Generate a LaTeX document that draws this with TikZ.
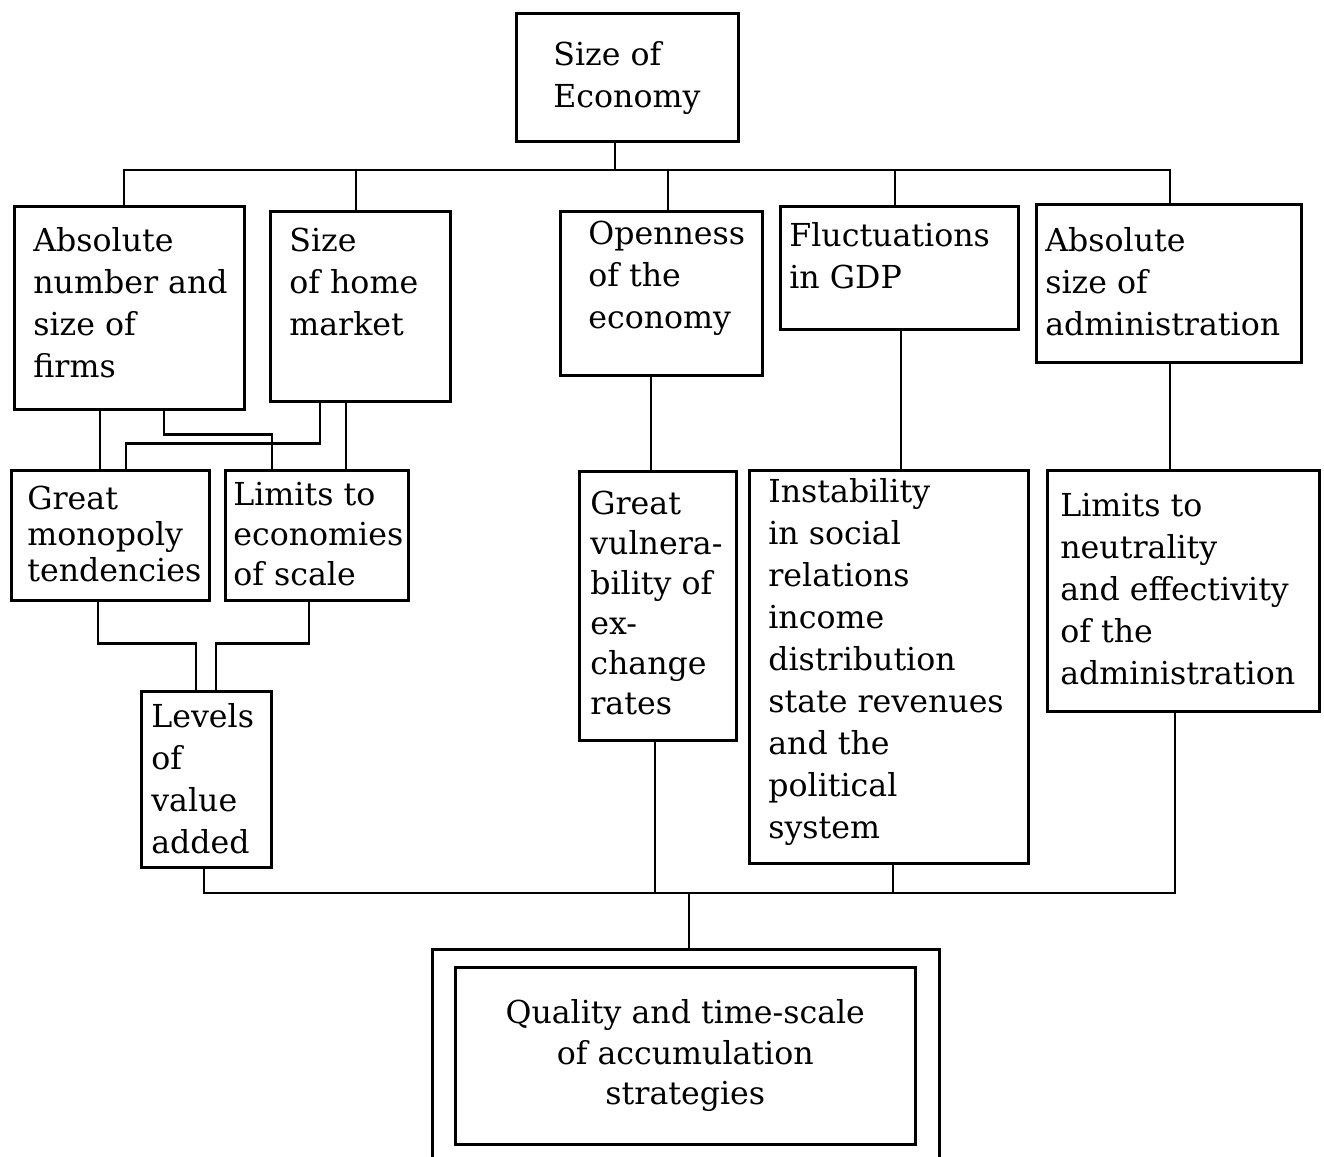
\documentclass[tikz,border=0pt]{standalone}
\usepackage{fontspec}
\setmainfont{DejaVu Serif}
\usetikzlibrary{positioning}

\begin{document}
\begin{tikzpicture}[x=0.02cm, y=-0.02cm,
      box/.style={draw, line width=1.5pt, rectangle, inner sep=0pt, anchor=north west},
      txt/.style={align=left, inner sep=0pt, anchor=west, font=\fontsize{18}{23.9}\selectfont},
      line/.style={draw, line width=1.5pt}
    ]
    \useasboundingbox (0,0) rectangle (1324,1156);

    % Boxes
    \node[box, minimum width=4.44cm, minimum height=2.56cm] (econ) at (515,12) {};
    \node[box, minimum width=4.6cm, minimum height=4.06cm] (firms) at (13,205) {};
    \node[box, minimum width=3.6cm, minimum height=3.8cm] (home) at (269,210) {};
    \node[box, minimum width=4.04cm, minimum height=3.28cm] (open) at (559,210) {};
    \node[box, minimum width=4.76cm, minimum height=2.46cm] (gdp) at (779,205) {};
    \node[box, minimum width=5.3cm, minimum height=3.16cm] (admin) at (1035,203) {};
    \node[box, minimum width=3.96cm, minimum height=2.6cm] (monop) at (10,469) {};
    \node[box, minimum width=3.66cm, minimum height=2.6cm] (limits) at (224,469) {};
    \node[box, minimum width=2.6cm, minimum height=3.52cm] (value) at (140,690) {};
    \node[box, minimum width=3.14cm, minimum height=5.38cm] (vuln) at (578,470) {};
    \node[box, minimum width=5.58cm, minimum height=7.86cm] (instab) at (748,469) {};
    \node[box, minimum width=5.44cm, minimum height=4.82cm] (neutral) at (1046,469) {};
    \node[box, minimum width=10.14cm, minimum height=4.44cm] (frame) at (431,948) {};
    \node[box, minimum width=9.2cm, minimum height=3.54cm, align=center,
          font=\fontsize{18}{23}\selectfont] (quality) at (454,966)
          {Quality and time-scale\\of accumulation\\strategies};

    % Texts
    \node[txt] (econ-t) at (553,78) {Size of\\Economy};
    \node[txt] (firms-t) at (33,303) {Absolute\\number and\\size of\\firms};
    \node[txt] (home-t) at (289,282) {Size\\of home\\market};
    \node[txt] (open-t) at (588,278) {Openness\\of the\\economy};
    \node[txt] (gdp-t) at (789,256) {Fluctuations\\in GDP};
    \node[txt] (admin-t) at (1045,282) {Absolute\\size of\\administration};
    \node[txt, font=\fontsize{18}{20.5}\selectfont] (monop-t) at (27,534) {Great\\monopoly\\tendencies};
    \node[txt, font=\fontsize{18}{23}\selectfont] (limits-t) at (233,534) {Limits to\\economies\\of scale};
    \node[txt] (value-t) at (151,779) {Levels\\of\\value\\added};
    \node[txt, font=\fontsize{18}{22.8}\selectfont] (vuln-t) at (590,603) {Great\\vulnera-\\bility of\\ex-\\change\\rates};
    \node[txt] (instab-t) at (768,662) {Instability\\in social\\relations\\income\\distribution\\state revenues\\and the\\political\\system};
    \node[txt] (neutral-t) at (1060,589) {Limits to\\neutrality\\and effectivity\\of the\\administration};

    % Top tree
    \coordinate (topbus) at (615,170);
    \draw[line] (econ.south -| topbus) -- (topbus);
    \draw[line] (firms.north -| 124,0) |- (topbus) -| (admin.north -| 1170,0);
    \draw[line] (home.north -| 356,0) -- (topbus -| 356,0);
    \draw[line] (open.north -| 668,0) -- (topbus -| 668,0);
    \draw[line] (gdp.north -| 895,0) -- (topbus -| 895,0);

    % Second level
    \draw[line] (firms.south -| 100,0) -- (monop.north -| 100,0);
    \draw[line] (firms.south -| 164,0) -- ++(0,24) -| (limits.north -| 272,0);
    \draw[line] (home.south -| 320,0) -- ++(0,41) -| (monop.north -| 126,0);
    \draw[line] (home.south -| 346,0) -- (limits.north -| 346,0);
    \draw[line] (open.south -| 651,0) -- (vuln.north -| 651,0);
    \draw[line] (gdp.south -| 901,0) -- (instab.north -| 901,0);
    \draw[line] (admin.south -| 1170,0) -- (neutral.north -| 1170,0);
    \draw[line] (monop.south -| 98,0) -- ++(0,42) -| (value.north -| 196,0);
    \draw[line] (limits.south -| 309,0) -- ++(0,42) -| (value.north -| 216,0);

    % Bottom tree
    \coordinate (botbus) at (689,893);
    \draw[line] (value.south -| 204,0) |- (botbus) -| (neutral.south -| 1175,0);
    \draw[line] (vuln.south -| 655,0) -- (botbus -| 655,0);
    \draw[line] (instab.south -| 893,0) -- (botbus -| 893,0);
    \draw[line] (botbus) -- (frame.north -| botbus);
  \end{tikzpicture}
\end{document}
